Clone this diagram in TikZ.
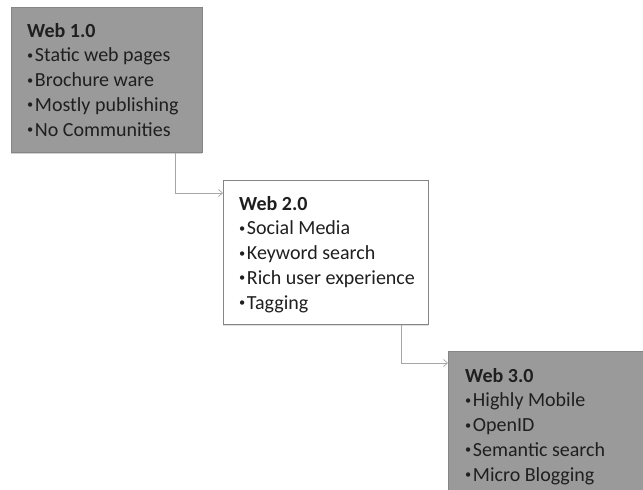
\documentclass[tikz,border=0pt]{standalone}
\usepackage{fontspec}
\usepackage{graphicx}
\setmainfont{Carlito}
\usetikzlibrary{arrows.meta,shadows}
\definecolor{boxgray}{HTML}{9A9A9A}
\definecolor{boxedge}{HTML}{858585}
\definecolor{connc}{HTML}{A6A6A6}
\newcommand\bul{\raisebox{0.12em}{\scalebox{0.62}{•}}\hspace{0.08em}}
\tikzset{
  graybox/.style={draw=boxedge,line width=0.8pt,fill=boxgray,anchor=north west,inner sep=0pt,
    drop shadow={shadow xshift=0pt,shadow yshift=-1.5pt,opacity=0.35}},
  whitebox/.style={draw=boxedge,line width=0.9pt,fill=white,anchor=north west,inner sep=0pt,
    drop shadow={shadow xshift=0pt,shadow yshift=-1.5pt,opacity=0.25}},
  boxtext/.style={anchor=north west,inner sep=0pt,align=left,text=black!88,
    font=\fontsize{20pt}{24.7pt}\selectfont},
  conn/.style={draw=connc,line width=0.7pt,-{Straight Barb[length=4pt,width=7pt]}}
}
\begin{document}
\begin{tikzpicture}[x=1pt,y=1pt]
\useasboundingbox (0,0) rectangle (643,-490);
\fill[white] (0,0) rectangle (643,-490);
\begin{scope}
\clip (0,0) rectangle (643,-490);
\node[graybox,minimum width=191pt,minimum height=145pt] (b1) at (11,-7) {};
\node[whitebox,minimum width=205pt,minimum height=144pt] (b2) at (223,-180) {};
\node[graybox,minimum width=210pt,minimum height=150pt] (b3) at (448,-351) {};
\end{scope}
\node[boxtext] (t1) at ([xshift=16pt,yshift=-16pt]b1.north west)
  {\textbf{Web 1.0}\\\bul Static web pages\\\bul Brochure ware\\\bul Mostly publishing\\\bul No Communities};
\node[boxtext] (t2) at ([xshift=16pt,yshift=-16pt]b2.north west)
  {\textbf{Web 2.0}\\\bul Social Media\\\bul Keyword search\\\bul Rich user experience\\\bul Tagging};
\node[boxtext] (t3) at ([xshift=17pt,yshift=-17pt]b3.north west)
  {\textbf{Web 3.0}\\\bul Highly Mobile\\\bul OpenID\\\bul Semantic search\\\bul Micro Blogging};
\coordinate (c1) at ([xshift=164pt]b1.south west);
\coordinate (c2) at ([xshift=178pt]b2.south west);
\draw[conn] (c1) |- ([yshift=-13pt]b2.north west);
\draw[conn] (c2) |- ([yshift=-12pt]b3.north west);
\end{tikzpicture}
\end{document}
